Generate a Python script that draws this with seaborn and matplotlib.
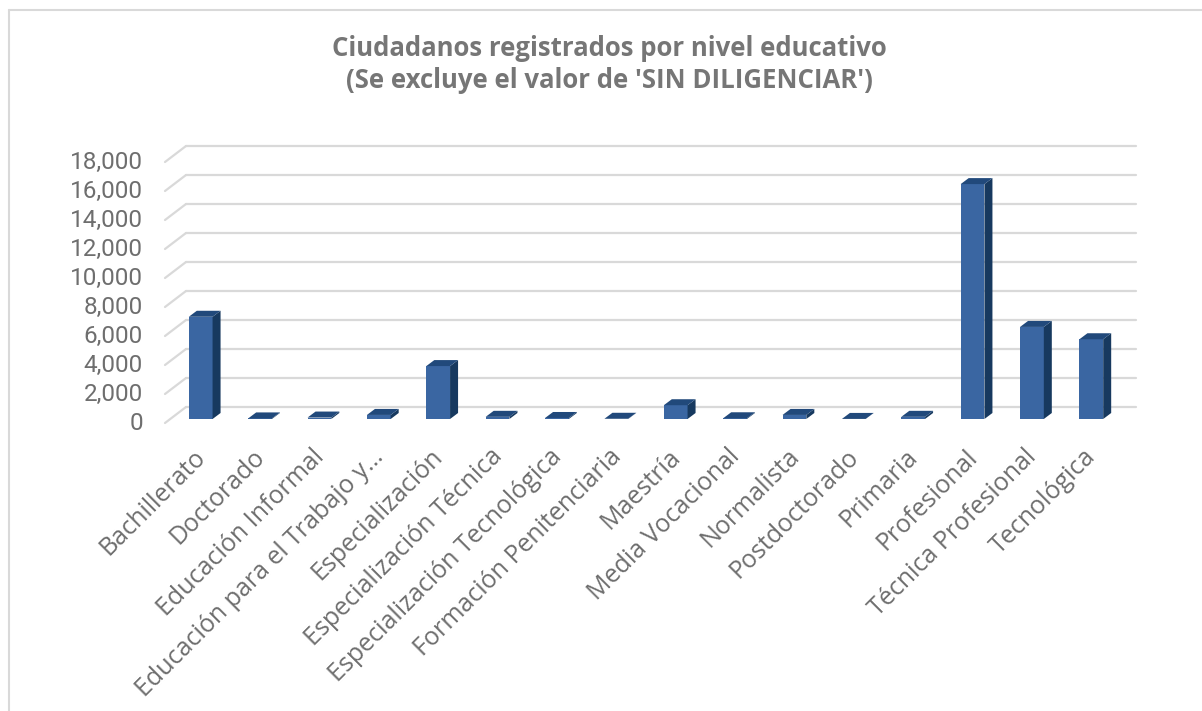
import matplotlib
matplotlib.use("Agg")
import matplotlib.pyplot as plt
from matplotlib.patches import Polygon
from matplotlib.lines import Line2D
import seaborn as sns
import pandas as pd

# ---------------- data ----------------
categories = [
    "Bachillerato", "Doctorado", "Educación Informal", "Educación para el Trabajo y…",
    "Especialización", "Especialización Técnica", "Especialización Tecnológica",
    "Formación Penitenciaria", "Maestría", "Media Vocacional", "Normalista",
    "Postdoctorado", "Primaria", "Profesional", "Técnica Profesional", "Tecnológica",
]
values = [7050, 40, 100, 280, 3650, 150, 70, 15, 950, 50, 280, 5, 150, 16200, 6350, 5500]
yticks = [0, 2000, 4000, 6000, 8000, 10000, 12000, 14000, 16000, 18000]
ytick_labels = [f"{v:,}" for v in yticks]
title_lines = ["Ciudadanos registrados por nivel educativo",
               "(Se excluye el valor de 'SIN DILIGENCIAR')"]

# ---------------- style ----------------
sns.set_theme(style="white")
plt.rcParams["font.family"] = ["Open Sans", "DejaVu Sans"]

W, H = 1202, 711
fig = plt.figure(figsize=(W / 100, H / 100), dpi=100)
fig.patch.set_facecolor("white")

# bar plane (pixels, from top)
x0, x1 = 171, 1121
y_zero, y_top = 419, 158
ax = fig.add_axes([x0 / W, (H - y_zero) / H, (x1 - x0) / W, (y_zero - y_top) / H])
n = len(categories)
PX_X = (x1 - x0) / n
PX_Y = (y_zero - y_top) / 18000.0
def dx(p): return p / PX_X
def dy(p): return p / PX_Y

front_c = "#3A66A2"
side_c = "#17395F"
top_c = "#21497B"
grid_c = "#D9D9D9"
text_c = "#6E6E6E"

df = pd.DataFrame({"cat": categories, "val": values})
bw = 0.40
sns.barplot(data=df, x="cat", y="val", order=categories, color=front_c,
            saturation=1, width=bw, ax=ax, zorder=3, edgecolor="none")
ax.set_xlim(-0.5, n - 0.5)
ax.set_ylim(0, 18000)

# back-wall gridlines and front stubs
fx, fy = dx(6), dy(4)
bx, by = dx(15), dy(12)
for v in yticks:
    ax.add_line(Line2D([-0.5 + bx, n - 0.5 + bx], [v + by, v + by], color=grid_c,
                       lw=1.6, zorder=0, clip_on=False))
    ax.add_line(Line2D([-0.5 - fx, -0.5 + bx], [v - fy, v + by], color=grid_c,
                       lw=1.6, zorder=0, clip_on=False))

# 3D side and top faces
ddx, ddy = dx(8), dy(6)
for i, v in enumerate(values):
    l, r = i - bw / 2, i + bw / 2
    side = Polygon([(r, 0), (r + ddx, ddy), (r + ddx, v + ddy), (r, v)],
                   closed=True, facecolor=side_c, edgecolor="none", zorder=3, clip_on=False)
    top = Polygon([(l, v), (r, v), (r + ddx, v + ddy), (l + ddx, v + ddy)],
                  closed=True, facecolor=top_c, edgecolor="none", zorder=3, clip_on=False)
    ax.add_patch(side)
    ax.add_patch(top)

# y labels
for v, lab in zip(yticks, ytick_labels):
    ax.text(-0.5 - dx(28), v - dy(4), lab, ha="right", va="center",
            fontsize=17.5, color=text_c, family=["Roboto", "DejaVu Sans"], clip_on=False)

# x labels
for i, lab in enumerate(categories):
    ax.text(i + dx(1), -dy(34), lab, ha="right", va="center", rotation=45,
            rotation_mode="anchor", fontsize=18, color=text_c, clip_on=False)

ax.set_xticks([])
ax.set_yticks([])
ax.set_xlabel("")
ax.set_ylabel("")
for s in ax.spines.values():
    s.set_visible(False)
ax.patch.set_alpha(0)

# title
fig.text(609 / W, 1 - 48 / H, title_lines[0], ha="center", va="center",
         fontsize=18.5, fontweight="bold", color="#767676")
fig.text(609 / W, 1 - 81 / H, title_lines[1], ha="center", va="center",
         fontsize=18.5, fontweight="bold", color="#767676")

# chart frame (top and left edges)
fig.add_artist(Line2D([9 / W, 1.0], [1 - 10 / H, 1 - 10 / H], transform=fig.transFigure,
                      color=grid_c, lw=1.5))
fig.add_artist(Line2D([9 / W, 9 / W], [0, 1 - 10 / H], transform=fig.transFigure,
                      color=grid_c, lw=1.5))

fig.savefig("out.png", dpi=100)
